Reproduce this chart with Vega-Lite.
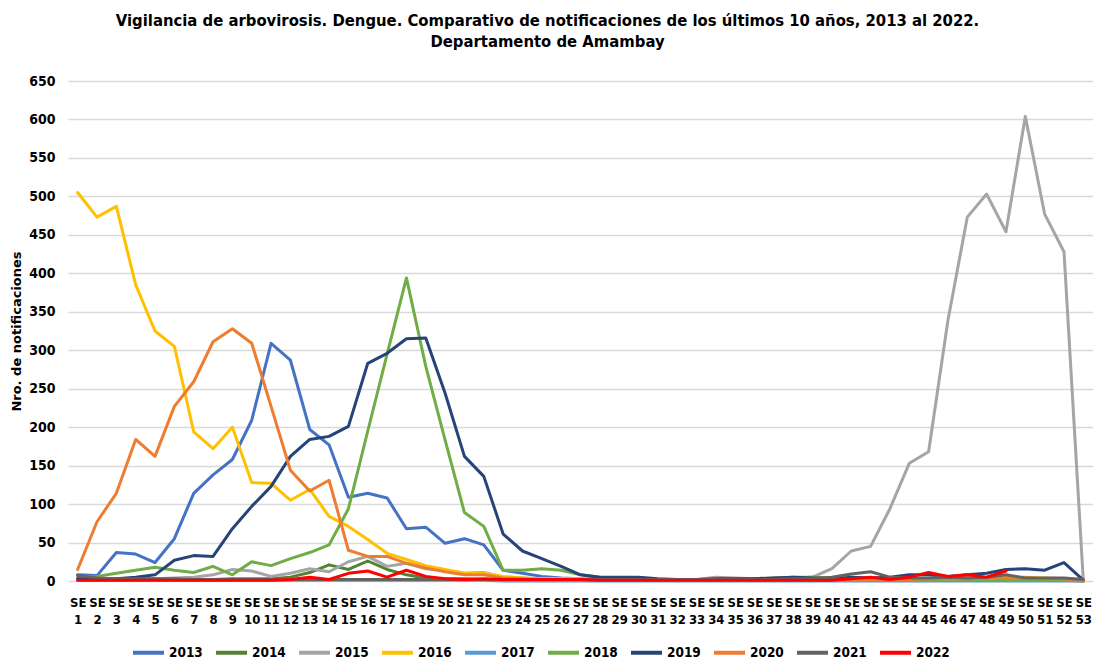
{
"$schema":"https://vega.github.io/schema/vega-lite/v6.json",
"autosize":"none",
"width":1025,"height":500,
"padding":{"left":68,"top":81,"right":0,"bottom":80},
"background":"white",
"config":{"view":{"stroke":null},"font":"DejaVu Sans Condensed, DejaVu Sans, sans-serif"},
"title":{"text":["Vigilancia de arbovirosis. Dengue. Comparativo de notificaciones de los últimos 10 años, 2013 al 2022.","Departamento de Amambay"],"font":"DejaVu Sans Condensed, DejaVu Sans, sans-serif","fontSize":16.5,"fontWeight":"bold","color":"#000000","anchor":"middle","dx":-33,"offset":24,"lineHeight":21},
"data":{"values":[
{"y":"2013","w":1,"v":8},{"y":"2013","w":2,"v":7},{"y":"2013","w":3,"v":37},{"y":"2013","w":4,"v":35},{"y":"2013","w":5,"v":24},{"y":"2013","w":6,"v":55},{"y":"2013","w":7,"v":114},{"y":"2013","w":8,"v":138},{"y":"2013","w":9,"v":158},{"y":"2013","w":10,"v":209},
{"y":"2013","w":11,"v":309},{"y":"2013","w":12,"v":287},{"y":"2013","w":13,"v":197},{"y":"2013","w":14,"v":177},{"y":"2013","w":15,"v":109},{"y":"2013","w":16,"v":114},{"y":"2013","w":17,"v":108},{"y":"2013","w":18,"v":68},{"y":"2013","w":19,"v":70},{"y":"2013","w":20,"v":49},
{"y":"2013","w":21,"v":55},{"y":"2013","w":22,"v":47},{"y":"2013","w":23,"v":14},{"y":"2013","w":24,"v":10},{"y":"2013","w":25,"v":6},{"y":"2013","w":26,"v":4},{"y":"2013","w":27,"v":3},{"y":"2013","w":28,"v":2},{"y":"2013","w":29,"v":2},{"y":"2013","w":30,"v":2},
{"y":"2013","w":31,"v":1},{"y":"2013","w":32,"v":1},{"y":"2013","w":33,"v":1},{"y":"2013","w":34,"v":1},{"y":"2013","w":35,"v":1},{"y":"2013","w":36,"v":1},{"y":"2013","w":37,"v":1},{"y":"2013","w":38,"v":1},{"y":"2013","w":39,"v":1},{"y":"2013","w":40,"v":1},
{"y":"2013","w":41,"v":1},{"y":"2013","w":42,"v":1},{"y":"2013","w":43,"v":1},{"y":"2013","w":44,"v":1},{"y":"2013","w":45,"v":1},{"y":"2013","w":46,"v":1},{"y":"2013","w":47,"v":1},{"y":"2013","w":48,"v":1},{"y":"2013","w":49,"v":1},{"y":"2013","w":50,"v":1},
{"y":"2013","w":51,"v":1},{"y":"2013","w":52,"v":1},{"y":"2013","w":53,"v":0},
{"y":"2014","w":1,"v":2},{"y":"2014","w":2,"v":2},{"y":"2014","w":3,"v":2},{"y":"2014","w":4,"v":2},{"y":"2014","w":5,"v":2},{"y":"2014","w":6,"v":2},{"y":"2014","w":7,"v":2},{"y":"2014","w":8,"v":2},{"y":"2014","w":9,"v":3},{"y":"2014","w":10,"v":3},
{"y":"2014","w":11,"v":3},{"y":"2014","w":12,"v":5},{"y":"2014","w":13,"v":11},{"y":"2014","w":14,"v":21},{"y":"2014","w":15,"v":15},{"y":"2014","w":16,"v":26},{"y":"2014","w":17,"v":15},{"y":"2014","w":18,"v":8},{"y":"2014","w":19,"v":4},{"y":"2014","w":20,"v":3},
{"y":"2014","w":21,"v":3},{"y":"2014","w":22,"v":2},{"y":"2014","w":23,"v":2},{"y":"2014","w":24,"v":2},{"y":"2014","w":25,"v":2},{"y":"2014","w":26,"v":2},{"y":"2014","w":27,"v":2},{"y":"2014","w":28,"v":2},{"y":"2014","w":29,"v":2},{"y":"2014","w":30,"v":2},
{"y":"2014","w":31,"v":1},{"y":"2014","w":32,"v":1},{"y":"2014","w":33,"v":1},{"y":"2014","w":34,"v":1},{"y":"2014","w":35,"v":1},{"y":"2014","w":36,"v":2},{"y":"2014","w":37,"v":3},{"y":"2014","w":38,"v":4},{"y":"2014","w":39,"v":5},{"y":"2014","w":40,"v":4},
{"y":"2014","w":41,"v":3},{"y":"2014","w":42,"v":2},{"y":"2014","w":43,"v":2},{"y":"2014","w":44,"v":2},{"y":"2014","w":45,"v":2},{"y":"2014","w":46,"v":2},{"y":"2014","w":47,"v":2},{"y":"2014","w":48,"v":3},{"y":"2014","w":49,"v":3},{"y":"2014","w":50,"v":3},
{"y":"2014","w":51,"v":3},{"y":"2014","w":52,"v":3},{"y":"2014","w":53,"v":0},
{"y":"2015","w":1,"v":3},{"y":"2015","w":2,"v":3},{"y":"2015","w":3,"v":3},{"y":"2015","w":4,"v":3},{"y":"2015","w":5,"v":3},{"y":"2015","w":6,"v":4},{"y":"2015","w":7,"v":5},{"y":"2015","w":8,"v":8},{"y":"2015","w":9,"v":15},{"y":"2015","w":10,"v":13},
{"y":"2015","w":11,"v":6},{"y":"2015","w":12,"v":10},{"y":"2015","w":13,"v":16},{"y":"2015","w":14,"v":12},{"y":"2015","w":15,"v":25},{"y":"2015","w":16,"v":32},{"y":"2015","w":17,"v":19},{"y":"2015","w":18,"v":23},{"y":"2015","w":19,"v":16},{"y":"2015","w":20,"v":14},
{"y":"2015","w":21,"v":10},{"y":"2015","w":22,"v":11},{"y":"2015","w":23,"v":5},{"y":"2015","w":24,"v":4},{"y":"2015","w":25,"v":3},{"y":"2015","w":26,"v":3},{"y":"2015","w":27,"v":3},{"y":"2015","w":28,"v":2},{"y":"2015","w":29,"v":2},{"y":"2015","w":30,"v":2},
{"y":"2015","w":31,"v":2},{"y":"2015","w":32,"v":2},{"y":"2015","w":33,"v":2},{"y":"2015","w":34,"v":5},{"y":"2015","w":35,"v":4},{"y":"2015","w":36,"v":3},{"y":"2015","w":37,"v":3},{"y":"2015","w":38,"v":4},{"y":"2015","w":39,"v":5},{"y":"2015","w":40,"v":16},
{"y":"2015","w":41,"v":39},{"y":"2015","w":42,"v":45},{"y":"2015","w":43,"v":94},{"y":"2015","w":44,"v":153},{"y":"2015","w":45,"v":168},{"y":"2015","w":46,"v":339},{"y":"2015","w":47,"v":473},{"y":"2015","w":48,"v":503},{"y":"2015","w":49,"v":454},{"y":"2015","w":50,"v":604},
{"y":"2015","w":51,"v":477},{"y":"2015","w":52,"v":428},{"y":"2015","w":53,"v":0},
{"y":"2016","w":1,"v":505},{"y":"2016","w":2,"v":473},{"y":"2016","w":3,"v":487},{"y":"2016","w":4,"v":385},{"y":"2016","w":5,"v":325},{"y":"2016","w":6,"v":305},{"y":"2016","w":7,"v":194},{"y":"2016","w":8,"v":172},{"y":"2016","w":9,"v":200},{"y":"2016","w":10,"v":128},
{"y":"2016","w":11,"v":127},{"y":"2016","w":12,"v":105},{"y":"2016","w":13,"v":119},{"y":"2016","w":14,"v":84},{"y":"2016","w":15,"v":71},{"y":"2016","w":16,"v":54},{"y":"2016","w":17,"v":36},{"y":"2016","w":18,"v":28},{"y":"2016","w":19,"v":20},{"y":"2016","w":20,"v":15},
{"y":"2016","w":21,"v":10},{"y":"2016","w":22,"v":10},{"y":"2016","w":23,"v":6},{"y":"2016","w":24,"v":4},{"y":"2016","w":25,"v":3},{"y":"2016","w":26,"v":3},{"y":"2016","w":27,"v":3},{"y":"2016","w":28,"v":2},{"y":"2016","w":29,"v":2},{"y":"2016","w":30,"v":2},
{"y":"2016","w":31,"v":1},{"y":"2016","w":32,"v":1},{"y":"2016","w":33,"v":1},{"y":"2016","w":34,"v":1},{"y":"2016","w":35,"v":1},{"y":"2016","w":36,"v":1},{"y":"2016","w":37,"v":1},{"y":"2016","w":38,"v":1},{"y":"2016","w":39,"v":1},{"y":"2016","w":40,"v":2},
{"y":"2016","w":41,"v":2},{"y":"2016","w":42,"v":2},{"y":"2016","w":43,"v":2},{"y":"2016","w":44,"v":2},{"y":"2016","w":45,"v":2},{"y":"2016","w":46,"v":3},{"y":"2016","w":47,"v":3},{"y":"2016","w":48,"v":4},{"y":"2016","w":49,"v":5},{"y":"2016","w":50,"v":5},
{"y":"2016","w":51,"v":4},{"y":"2016","w":52,"v":3},{"y":"2016","w":53,"v":0},
{"y":"2017","w":1,"v":1},{"y":"2017","w":2,"v":1},{"y":"2017","w":3,"v":1},{"y":"2017","w":4,"v":1},{"y":"2017","w":5,"v":1},{"y":"2017","w":6,"v":1},{"y":"2017","w":7,"v":1},{"y":"2017","w":8,"v":1},{"y":"2017","w":9,"v":1},{"y":"2017","w":10,"v":1},
{"y":"2017","w":11,"v":1},{"y":"2017","w":12,"v":1},{"y":"2017","w":13,"v":1},{"y":"2017","w":14,"v":1},{"y":"2017","w":15,"v":1},{"y":"2017","w":16,"v":1},{"y":"2017","w":17,"v":1},{"y":"2017","w":18,"v":1},{"y":"2017","w":19,"v":1},{"y":"2017","w":20,"v":1},
{"y":"2017","w":21,"v":1},{"y":"2017","w":22,"v":1},{"y":"2017","w":23,"v":0},{"y":"2017","w":24,"v":0},{"y":"2017","w":25,"v":0},{"y":"2017","w":26,"v":0},{"y":"2017","w":27,"v":0},{"y":"2017","w":28,"v":0},{"y":"2017","w":29,"v":0},{"y":"2017","w":30,"v":0},
{"y":"2017","w":31,"v":0},{"y":"2017","w":32,"v":0},{"y":"2017","w":33,"v":0},{"y":"2017","w":34,"v":0},{"y":"2017","w":35,"v":0},{"y":"2017","w":36,"v":0},{"y":"2017","w":37,"v":0},{"y":"2017","w":38,"v":0},{"y":"2017","w":39,"v":0},{"y":"2017","w":40,"v":0},
{"y":"2017","w":41,"v":0},{"y":"2017","w":42,"v":0},{"y":"2017","w":43,"v":0},{"y":"2017","w":44,"v":0},{"y":"2017","w":45,"v":0},{"y":"2017","w":46,"v":0},{"y":"2017","w":47,"v":0},{"y":"2017","w":48,"v":0},{"y":"2017","w":49,"v":0},{"y":"2017","w":50,"v":0},
{"y":"2017","w":51,"v":0},{"y":"2017","w":52,"v":0},{"y":"2017","w":53,"v":0},
{"y":"2018","w":1,"v":4},{"y":"2018","w":2,"v":6},{"y":"2018","w":3,"v":10},{"y":"2018","w":4,"v":14},{"y":"2018","w":5,"v":18},{"y":"2018","w":6,"v":14},{"y":"2018","w":7,"v":11},{"y":"2018","w":8,"v":19},{"y":"2018","w":9,"v":8},{"y":"2018","w":10,"v":25},
{"y":"2018","w":11,"v":20},{"y":"2018","w":12,"v":29},{"y":"2018","w":13,"v":37},{"y":"2018","w":14,"v":47},{"y":"2018","w":15,"v":94},{"y":"2018","w":16,"v":195},{"y":"2018","w":17,"v":295},{"y":"2018","w":18,"v":394},{"y":"2018","w":19,"v":279},{"y":"2018","w":20,"v":183},
{"y":"2018","w":21,"v":89},{"y":"2018","w":22,"v":71},{"y":"2018","w":23,"v":14},{"y":"2018","w":24,"v":14},{"y":"2018","w":25,"v":16},{"y":"2018","w":26,"v":14},{"y":"2018","w":27,"v":8},{"y":"2018","w":28,"v":5},{"y":"2018","w":29,"v":3},{"y":"2018","w":30,"v":3},
{"y":"2018","w":31,"v":2},{"y":"2018","w":32,"v":2},{"y":"2018","w":33,"v":2},{"y":"2018","w":34,"v":2},{"y":"2018","w":35,"v":2},{"y":"2018","w":36,"v":3},{"y":"2018","w":37,"v":4},{"y":"2018","w":38,"v":5},{"y":"2018","w":39,"v":5},{"y":"2018","w":40,"v":3},
{"y":"2018","w":41,"v":2},{"y":"2018","w":42,"v":2},{"y":"2018","w":43,"v":2},{"y":"2018","w":44,"v":2},{"y":"2018","w":45,"v":2},{"y":"2018","w":46,"v":2},{"y":"2018","w":47,"v":2},{"y":"2018","w":48,"v":2},{"y":"2018","w":49,"v":2},{"y":"2018","w":50,"v":2},
{"y":"2018","w":51,"v":2},{"y":"2018","w":52,"v":2},{"y":"2018","w":53,"v":0},
{"y":"2019","w":1,"v":3},{"y":"2019","w":2,"v":2},{"y":"2019","w":3,"v":3},{"y":"2019","w":4,"v":5},{"y":"2019","w":5,"v":8},{"y":"2019","w":6,"v":27},{"y":"2019","w":7,"v":33},{"y":"2019","w":8,"v":32},{"y":"2019","w":9,"v":68},{"y":"2019","w":10,"v":97},
{"y":"2019","w":11,"v":123},{"y":"2019","w":12,"v":162},{"y":"2019","w":13,"v":184},{"y":"2019","w":14,"v":188},{"y":"2019","w":15,"v":201},{"y":"2019","w":16,"v":283},{"y":"2019","w":17,"v":296},{"y":"2019","w":18,"v":315},{"y":"2019","w":19,"v":316},{"y":"2019","w":20,"v":244},
{"y":"2019","w":21,"v":162},{"y":"2019","w":22,"v":136},{"y":"2019","w":23,"v":61},{"y":"2019","w":24,"v":39},{"y":"2019","w":25,"v":29},{"y":"2019","w":26,"v":19},{"y":"2019","w":27,"v":8},{"y":"2019","w":28,"v":5},{"y":"2019","w":29,"v":5},{"y":"2019","w":30,"v":5},
{"y":"2019","w":31,"v":3},{"y":"2019","w":32,"v":2},{"y":"2019","w":33,"v":2},{"y":"2019","w":34,"v":3},{"y":"2019","w":35,"v":3},{"y":"2019","w":36,"v":3},{"y":"2019","w":37,"v":4},{"y":"2019","w":38,"v":5},{"y":"2019","w":39,"v":4},{"y":"2019","w":40,"v":3},
{"y":"2019","w":41,"v":5},{"y":"2019","w":42,"v":4},{"y":"2019","w":43,"v":5},{"y":"2019","w":44,"v":8},{"y":"2019","w":45,"v":8},{"y":"2019","w":46,"v":6},{"y":"2019","w":47,"v":8},{"y":"2019","w":48,"v":10},{"y":"2019","w":49,"v":15},{"y":"2019","w":50,"v":16},
{"y":"2019","w":51,"v":14},{"y":"2019","w":52,"v":24},{"y":"2019","w":53,"v":1},
{"y":"2020","w":1,"v":15},{"y":"2020","w":2,"v":77},{"y":"2020","w":3,"v":114},{"y":"2020","w":4,"v":184},{"y":"2020","w":5,"v":162},{"y":"2020","w":6,"v":227},{"y":"2020","w":7,"v":259},{"y":"2020","w":8,"v":311},{"y":"2020","w":9,"v":328},{"y":"2020","w":10,"v":309},
{"y":"2020","w":11,"v":227},{"y":"2020","w":12,"v":144},{"y":"2020","w":13,"v":117},{"y":"2020","w":14,"v":131},{"y":"2020","w":15,"v":40},{"y":"2020","w":16,"v":32},{"y":"2020","w":17,"v":32},{"y":"2020","w":18,"v":23},{"y":"2020","w":19,"v":17},{"y":"2020","w":20,"v":12},
{"y":"2020","w":21,"v":8},{"y":"2020","w":22,"v":8},{"y":"2020","w":23,"v":4},{"y":"2020","w":24,"v":3},{"y":"2020","w":25,"v":2},{"y":"2020","w":26,"v":2},{"y":"2020","w":27,"v":2},{"y":"2020","w":28,"v":2},{"y":"2020","w":29,"v":2},{"y":"2020","w":30,"v":2},
{"y":"2020","w":31,"v":1},{"y":"2020","w":32,"v":1},{"y":"2020","w":33,"v":1},{"y":"2020","w":34,"v":1},{"y":"2020","w":35,"v":1},{"y":"2020","w":36,"v":1},{"y":"2020","w":37,"v":1},{"y":"2020","w":38,"v":1},{"y":"2020","w":39,"v":1},{"y":"2020","w":40,"v":1},
{"y":"2020","w":41,"v":1},{"y":"2020","w":42,"v":2},{"y":"2020","w":43,"v":2},{"y":"2020","w":44,"v":2},{"y":"2020","w":45,"v":3},{"y":"2020","w":46,"v":3},{"y":"2020","w":47,"v":3},{"y":"2020","w":48,"v":4},{"y":"2020","w":49,"v":4},{"y":"2020","w":50,"v":4},
{"y":"2020","w":51,"v":3},{"y":"2020","w":52,"v":3},{"y":"2020","w":53,"v":0},
{"y":"2021","w":1,"v":7},{"y":"2021","w":2,"v":4},{"y":"2021","w":3,"v":3},{"y":"2021","w":4,"v":3},{"y":"2021","w":5,"v":3},{"y":"2021","w":6,"v":3},{"y":"2021","w":7,"v":2},{"y":"2021","w":8,"v":2},{"y":"2021","w":9,"v":2},{"y":"2021","w":10,"v":2},
{"y":"2021","w":11,"v":2},{"y":"2021","w":12,"v":2},{"y":"2021","w":13,"v":2},{"y":"2021","w":14,"v":2},{"y":"2021","w":15,"v":2},{"y":"2021","w":16,"v":2},{"y":"2021","w":17,"v":2},{"y":"2021","w":18,"v":2},{"y":"2021","w":19,"v":2},{"y":"2021","w":20,"v":2},
{"y":"2021","w":21,"v":2},{"y":"2021","w":22,"v":2},{"y":"2021","w":23,"v":2},{"y":"2021","w":24,"v":2},{"y":"2021","w":25,"v":2},{"y":"2021","w":26,"v":2},{"y":"2021","w":27,"v":2},{"y":"2021","w":28,"v":2},{"y":"2021","w":29,"v":2},{"y":"2021","w":30,"v":2},
{"y":"2021","w":31,"v":2},{"y":"2021","w":32,"v":2},{"y":"2021","w":33,"v":2},{"y":"2021","w":34,"v":2},{"y":"2021","w":35,"v":2},{"y":"2021","w":36,"v":2},{"y":"2021","w":37,"v":2},{"y":"2021","w":38,"v":3},{"y":"2021","w":39,"v":3},{"y":"2021","w":40,"v":5},
{"y":"2021","w":41,"v":9},{"y":"2021","w":42,"v":12},{"y":"2021","w":43,"v":5},{"y":"2021","w":44,"v":4},{"y":"2021","w":45,"v":4},{"y":"2021","w":46,"v":5},{"y":"2021","w":47,"v":4},{"y":"2021","w":48,"v":5},{"y":"2021","w":49,"v":8},{"y":"2021","w":50,"v":4},
{"y":"2021","w":51,"v":4},{"y":"2021","w":52,"v":4},{"y":"2021","w":53,"v":2},
{"y":"2022","w":1,"v":1},{"y":"2022","w":2,"v":1},{"y":"2022","w":3,"v":1},{"y":"2022","w":4,"v":1},{"y":"2022","w":5,"v":1},{"y":"2022","w":6,"v":1},{"y":"2022","w":7,"v":1},{"y":"2022","w":8,"v":1},{"y":"2022","w":9,"v":1},{"y":"2022","w":10,"v":1},
{"y":"2022","w":11,"v":1},{"y":"2022","w":12,"v":2},{"y":"2022","w":13,"v":5},{"y":"2022","w":14,"v":2},{"y":"2022","w":15,"v":10},{"y":"2022","w":16,"v":13},{"y":"2022","w":17,"v":5},{"y":"2022","w":18,"v":14},{"y":"2022","w":19,"v":6},{"y":"2022","w":20,"v":3},
{"y":"2022","w":21,"v":2},{"y":"2022","w":22,"v":3},{"y":"2022","w":23,"v":2},{"y":"2022","w":24,"v":2},{"y":"2022","w":25,"v":2},{"y":"2022","w":26,"v":2},{"y":"2022","w":27,"v":2},{"y":"2022","w":28,"v":1},{"y":"2022","w":29,"v":1},{"y":"2022","w":30,"v":1},
{"y":"2022","w":31,"v":1},{"y":"2022","w":32,"v":1},{"y":"2022","w":33,"v":1},{"y":"2022","w":34,"v":1},{"y":"2022","w":35,"v":1},{"y":"2022","w":36,"v":1},{"y":"2022","w":37,"v":1},{"y":"2022","w":38,"v":1},{"y":"2022","w":39,"v":1},{"y":"2022","w":40,"v":1},
{"y":"2022","w":41,"v":3},{"y":"2022","w":42,"v":5},{"y":"2022","w":43,"v":2},{"y":"2022","w":44,"v":5},{"y":"2022","w":45,"v":11},{"y":"2022","w":46,"v":6},{"y":"2022","w":47,"v":8},{"y":"2022","w":48,"v":5},{"y":"2022","w":49,"v":13}
]},
"mark":{"type":"line","strokeWidth":3,"strokeJoin":"round","strokeCap":"round"},
"encoding":{
"x":{"field":"w","type":"ordinal","scale":{"type":"point","padding":0.5},
"axis":{"title":null,"labelAngle":0,"labelExpr":"['SE', datum.label]","labelFont":"DejaVu Sans Condensed, DejaVu Sans, sans-serif","labelFontSize":13,"labelFontWeight":"bold","labelColor":"#000000","labelLineHeight":17,"labelPadding":15,"ticks":false,"domain":false,"grid":false,"labelOverlap":false}},
"y":{"field":"v","type":"quantitative","scale":{"domain":[0,650]},
"axis":{"values":[0,50,100,150,200,250,300,350,400,450,500,550,600,650],"title":"Nro. de notificaciones","titleFont":"DejaVu Sans","titleFontSize":13,"titleFontWeight":"bold","titleColor":"#000000","titlePadding":5,"labelFont":"DejaVu Sans Condensed, DejaVu Sans, sans-serif","labelFontSize":14,"labelFontWeight":"bold","labelColor":"#000000","labelPadding":13,"ticks":false,"domain":false,"gridColor":"#d9d9d9","gridWidth":1.5}},
"color":{"field":"y","type":"nominal","scale":{"domain":["2013","2014","2015","2016","2017","2018","2019","2020","2021","2022"],"range":["#4472C4","#548235","#A5A5A5","#FFC000","#5B9BD5","#70AD47","#264478","#ED7D31","#636363","#FF0000"]},
"legend":{"title":null,"orient":"none","legendX":63,"legendY":554,"direction":"horizontal","columns":10,"symbolType":"stroke","symbolSize":961,"symbolStrokeWidth":4,"labelOffset":3,"columnPadding":5,"labelFont":"DejaVu Sans Condensed, DejaVu Sans, sans-serif","labelFontSize":13.5,"labelFontWeight":"bold","labelColor":"#000000"}}
}
}
